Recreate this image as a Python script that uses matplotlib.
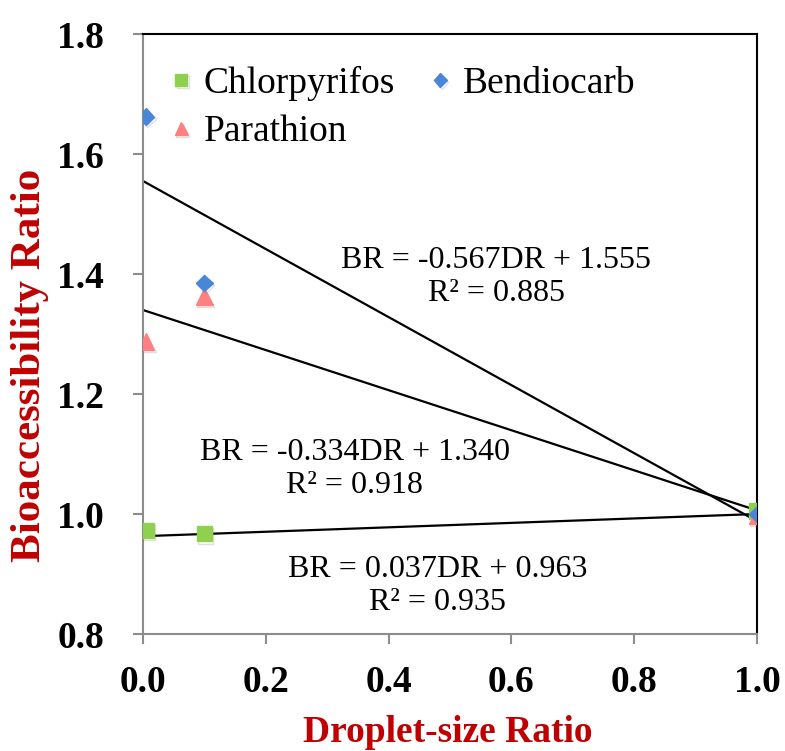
import numpy as np
import matplotlib
matplotlib.use('Agg')
import matplotlib.pyplot as plt
import matplotlib.patheffects as pe

plt.rcParams['font.family'] = ['Liberation Serif', 'DejaVu Serif']

# data
dr = [0.005, 0.1, 1.0]
chlorpyrifos = [0.973, 0.967, 1.005]
bendiocarb = [1.662, 1.385, 1.0]
parathion = [1.287, 1.362, 0.998]

# trend lines (slope, intercept, r2)
fits = {
    'Bendiocarb': (-0.567, 1.555, 0.885),
    'Parathion': (-0.334, 1.340, 0.918),
    'Chlorpyrifos': (0.037, 0.963, 0.935),
}
label_pos = {
    'Bendiocarb': (0.575, 1.395),
    'Parathion': (0.345, 1.075),
    'Chlorpyrifos': (0.48, 0.88),
}

W, H = 785, 751
fig = plt.figure(figsize=(W / 100, H / 100), dpi=100)
ax = fig.add_axes([143 / W, 1 - 634 / H, 614 / W, 600 / H])

xs = np.array([0.0, 1.0])
for name, (m, b, r2) in fits.items():
    ax.plot(xs, m * xs + b, color='black', lw=1.6, zorder=2)
    tx, ty = label_pos[name]
    ax.text(tx, ty, 'BR = %.3fDR + %.3f\nR² = %.3f' % (m, b, r2),
            ha='center', va='center', fontsize=23, linespacing=1.2)

shadow = [pe.SimpleLineShadow(offset=(1, -1.5), alpha=0.25, shadow_color='gray'), pe.Normal()]
ax.plot(dr, chlorpyrifos, 's', color='#8fd14f', ms=11, label='Chlorpyrifos',
        zorder=3, path_effects=shadow)
ax.plot(dr, parathion, '^', color='#ff8080', ms=12, label='Parathion',
        zorder=3, path_effects=shadow)
ax.plot(dr, bendiocarb, 'D', color='#4a86d8', ms=8.5, label='Bendiocarb',
        zorder=3, path_effects=shadow)

ax.set_xlim(0, 1)
ax.set_ylim(0.8, 1.8)
ax.set_xticks(np.arange(0, 1.01, 0.2))
ax.set_yticks(np.arange(0.8, 1.81, 0.2))
ax.xaxis.set_major_formatter(plt.FormatStrFormatter('%.1f'))
ax.yaxis.set_major_formatter(plt.FormatStrFormatter('%.1f'))
for lab in ax.get_xticklabels() + ax.get_yticklabels():
    lab.set_fontweight('bold')
ax.tick_params(axis='both', labelsize=27, direction='out', length=7,
               width=1.5, color='#8c8c8c')
ax.tick_params(axis='x', pad=15)
ax.tick_params(axis='y', pad=21)

for s in ['left', 'bottom']:
    ax.spines[s].set_color('#8c8c8c')
    ax.spines[s].set_linewidth(1.5)
for s in ['top', 'right']:
    ax.spines[s].set_color('black')
    ax.spines[s].set_linewidth(1.5)

# axis titles placed in figure pixels to match the original
fig.text(448 / W, 1 - 742 / H, 'Droplet-size Ratio', fontsize=27,
         fontweight='bold', color='#c00000', ha='center', va='baseline')
fig.text(30 / W, 1 - 365 / H, 'Bioaccessibility Ratio', fontsize=31,
         fontweight='bold', color='#c00000', ha='center', va='center',
         rotation=90)

ax.legend(loc='upper left', bbox_to_anchor=(-0.02, 1.0), ncol=2,
          frameon=False, fontsize=27, handletextpad=0.1, columnspacing=0.7,
          borderaxespad=0.45, handlelength=1.0, labelspacing=0.37,
          markerscale=0.8)

fig.savefig('out.png', dpi=100)
